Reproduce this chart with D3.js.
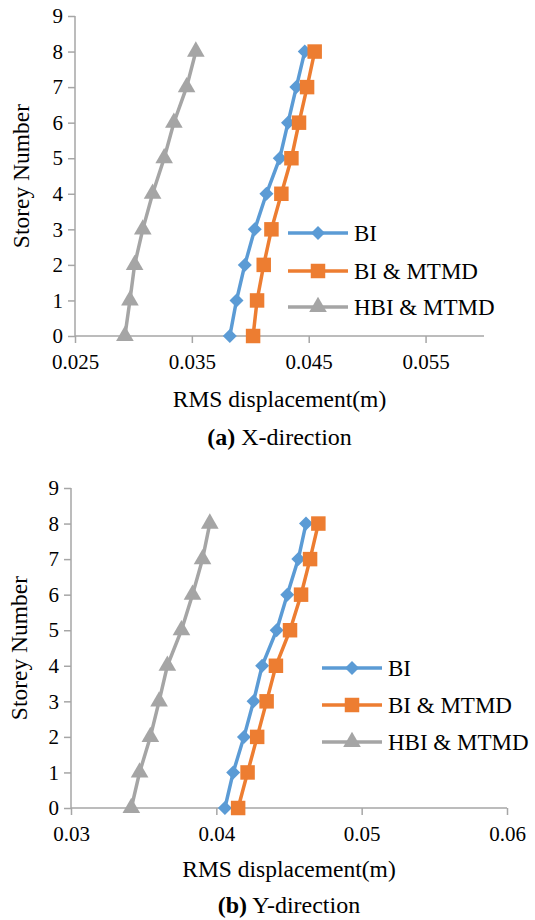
<html>
<style>
body { margin: 0; background: #fff; }
.axis path, .axis line { stroke: #a6a6a6; stroke-width: 1.5px; }
</style>
<svg width="535" height="920" font-family="Liberation Serif"></svg>
<script src="https://d3js.org/d3.v7.min.js"></script>
<script>

var storeys = [0, 1, 2, 3, 4, 5, 6, 7, 8];
var seriesNames = ["BI", "BI & MTMD", "HBI & MTMD"];
var colors = ["#5b9bd5", "#ed7d31", "#a5a5a5"];

// (a) X-direction
var xBI    = [0.03825, 0.03882, 0.03953, 0.04038, 0.04138, 0.04252, 0.04323, 0.04394, 0.04466];
var xBIM   = [0.04024, 0.04058, 0.04115, 0.04181, 0.04266, 0.04352, 0.04417, 0.04486, 0.04551];
var xHBIM  = [0.02927, 0.02970, 0.03010, 0.03080, 0.03164, 0.03263, 0.03346, 0.03455, 0.03534];
var xTicks = [0.025, 0.035, 0.045, 0.055];

// (b) Y-direction
var yBI    = [0.04059, 0.04116, 0.04190, 0.04256, 0.04315, 0.04415, 0.04488, 0.04564, 0.04617];
var yBIM   = [0.04150, 0.04215, 0.04281, 0.04346, 0.04410, 0.04507, 0.04583, 0.04645, 0.04702];
var yHBIM  = [0.03415, 0.03472, 0.03546, 0.03606, 0.03663, 0.03760, 0.03836, 0.03905, 0.03955];
var yTicks = [0.03, 0.04, 0.05, 0.06];

var storeyTicks = [0, 1, 2, 3, 4, 5, 6, 7, 8, 9];

var serif = "Liberation Serif";
var svg = d3.select("svg");

var diamond = d3.symbol().type(d3.symbolDiamond2).size(125);
var square = d3.symbol().type(d3.symbolSquare).size(210);
var triangle = d3.symbol().type(d3.symbolTriangle).size(135);
var shapes = [diamond, square, triangle];

function panel(o) {
  var x = d3.scaleLinear().domain(o.xDomain).range([o.left, o.right]);
  var y = d3.scaleLinear().domain([0, 9]).range([o.bottom, o.top]);
  var g = svg.append("g");

  g.append("g")
      .attr("class", "axis")
      .attr("transform", "translate(0," + o.bottom + ")")
      .call(d3.axisBottom(x).tickValues(o.ticks).tickSize(7).tickPadding(11).tickFormat(d3.format("")))
      .call(function(a) {
        a.attr("font-family", serif).attr("font-size", 21);
        a.select(".domain").attr("d", "M" + o.left + ",0H" + o.right);
        a.selectAll("text").attr("fill", "#000");
      });

  g.append("g")
      .attr("class", "axis")
      .attr("transform", "translate(" + o.left + ",0)")
      .call(d3.axisLeft(y).tickValues(storeyTicks).tickSize(7).tickPadding(5))
      .call(function(a) {
        a.attr("font-family", serif).attr("font-size", 21);
        a.select(".domain").attr("d", "M0," + o.top + "V" + o.bottom);
        a.selectAll("text").attr("fill", "#000");
      });

  var line = d3.line()
      .x(function(d) { return x(d[0]); })
      .y(function(d) { return y(d[1]); });

  // draw HBI first so the other series sit on top
  [2, 0, 1].forEach(function(i) {
    var pts = o.series[i].map(function(v, k) { return [v, storeys[k]]; });
    g.append("path")
        .attr("d", line(pts))
        .attr("fill", "none")
        .attr("stroke", colors[i])
        .attr("stroke-width", 3.5);
    g.selectAll(null)
      .data(pts)
      .enter().append("path")
        .attr("d", shapes[i]())
        .attr("transform", function(d) { return "translate(" + x(d[0]) + "," + y(d[1]) + ")"; })
        .attr("fill", colors[i]);
  });

  // legend
  seriesNames.forEach(function(name, i) {
    var ly = o.legY[i];
    g.append("line")
        .attr("x1", o.legX).attr("x2", o.legX + 60)
        .attr("y1", ly).attr("y2", ly)
        .attr("stroke", colors[i]).attr("stroke-width", 3.5);
    g.append("path")
        .attr("d", shapes[i]())
        .attr("transform", "translate(" + (o.legX + 30) + "," + ly + ")")
        .attr("fill", colors[i]);
    g.append("text")
        .attr("x", o.legX + 66).attr("y", ly)
        .attr("dy", "0.35em")
        .attr("font-size", 23)
        .attr("font-family", serif)
        .text(name);
  });

  g.append("text")
      .attr("transform", "translate(" + o.yTitleX + "," + ((o.top + o.bottom) / 2) + ") rotate(-90)")
      .attr("text-anchor", "middle")
      .attr("dy", "0.35em")
      .attr("font-size", 23.5)
      .attr("font-family", serif)
      .text("Storey Number");

  g.append("text")
      .attr("x", (o.left + o.right) / 2)
      .attr("y", o.titleY)
      .attr("text-anchor", "middle")
      .attr("dy", "0.35em")
      .attr("font-size", 23.5)
      .attr("font-family", serif)
      .text("RMS displacement(m)");

  var cap = g.append("text")
      .attr("x", (o.left + o.right) / 2)
      .attr("y", o.capY)
      .attr("text-anchor", "middle")
      .attr("dy", "0.35em")
      .attr("font-size", 24)
      .attr("font-family", serif);
  cap.append("tspan").attr("font-weight", "bold").text("(" + o.letter + ")");
  cap.append("tspan").text(" " + o.caption);
}

panel({
  xDomain: [0.025, 0.06], ticks: xTicks,
  left: 75, right: 484, top: 16, bottom: 336,
  series: [xBI, xBIM, xHBIM],
  legX: 288, legY: [233, 271, 307],
  yTitleX: 21, titleY: 399, capY: 437,
  letter: "a", caption: "X-direction"
});

panel({
  xDomain: [0.03, 0.06], ticks: yTicks,
  left: 71, right: 507, top: 488, bottom: 808,
  series: [yBI, yBIM, yHBIM],
  legX: 322, legY: [668, 705, 742],
  yTitleX: 19, titleY: 869, capY: 905,
  letter: "b", caption: "Y-direction"
});

</script>
</html>
